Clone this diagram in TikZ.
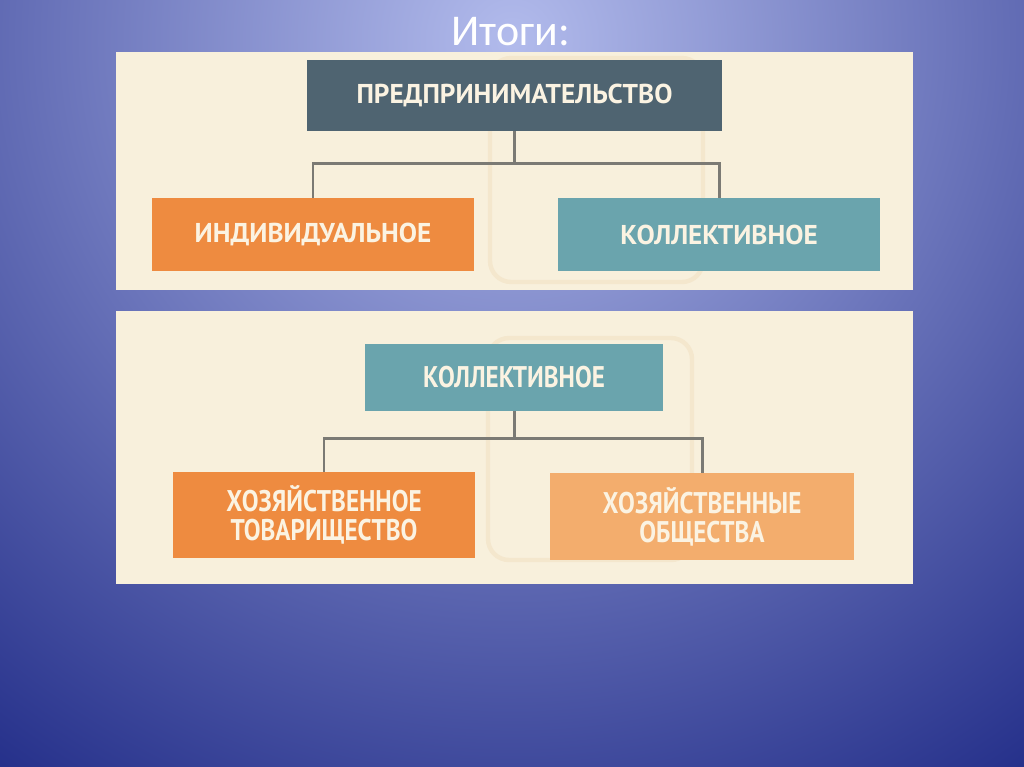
\documentclass[tikz,border=0pt]{standalone}
\usepackage{fontspec}
\setmainfont{PT Sans}
\newfontfamily\titlefont{Carlito}
\newfontfamily\narrowfont[FakeStretch=0.84]{PT Sans}
\usetikzlibrary{positioning, calc}

\definecolor{bgdark}{HTML}{1C2784}
\definecolor{bglight}{HTML}{B2BBEC}
\definecolor{panel}{HTML}{F8F0DC}
\definecolor{watermark}{HTML}{F4E7CD}
\definecolor{slate}{HTML}{4F6471}
\definecolor{teal}{HTML}{6AA4AD}
\definecolor{orange}{HTML}{EE8B40}
\definecolor{peach}{HTML}{F3AD6D}
\definecolor{linegray}{HTML}{7B7A74}
\definecolor{creamtext}{HTML}{FBF3E2}

\begin{document}
\begin{tikzpicture}[
    x=0.02cm, y=-0.02cm,    % 1単位 = 1px（下向きが正）
    box/.style={inner sep=0pt, align=center, text=creamtext, font=\bfseries\fontsize{15.5}{17}\selectfont},
    nbox/.style={box, font=\narrowfont\bfseries\fontsize{17}{16.5}\selectfont},
    link/.style={draw=linegray, line width=1.7pt}
]

    % --- 1. 背景 ---
    \useasboundingbox (0,0) rectangle (1024,767);
    \fill [bgdark] (0,0) rectangle (1024,767);
    \begin{scope}
        \clip (0,0) rectangle (1024,767);
        \shade [inner color=bglight, outer color=bgdark] (512,40) circle [radius=950];
    \end{scope}

    % タイトル
    \node [text=white, font=\titlefont\fontsize{25}{30}\selectfont] (title) at (511,32) {Итоги:};

    % --- 2. 上のパネル ---
    \fill [panel] (116,52) rectangle (913,290);
    \draw [watermark, line width=2.5pt, rounded corners=12pt] (490,58) rectangle (703,282);

    \node [box, fill=slate, minimum width=8.3cm, minimum height=1.42cm] (ent) at (514.5,95.5) {ПРЕДПРИНИМАТЕЛЬСТВО};
    \node [box, fill=orange, minimum width=6.44cm, minimum height=1.46cm] (indiv) at (313,234.5) {ИНДИВИДУАЛЬНОЕ};
    \node [box, fill=teal, minimum width=6.44cm, minimum height=1.46cm] (coll) at (719,234.5) {КОЛЛЕКТИВНОЕ};

    \path (ent.south) ++(0,32) coordinate (fork1);
    \draw [link] (ent.south) -- (fork1) -| (indiv.north);
    \draw [link] (fork1) -| (coll.north);

    % --- 3. 下のパネル ---
    \fill [panel] (116,311) rectangle (913,584);
    \draw [watermark, line width=2.5pt, rounded corners=12pt] (488,338) rectangle (692,560);

    \node [nbox, fill=teal, minimum width=5.98cm, minimum height=1.34cm] (coll2) at (514,377.5) {КОЛЛЕКТИВНОЕ};
    \node [nbox, fill=orange, minimum width=6.06cm, minimum height=1.72cm] (part) at (324,515) {ХОЗЯЙСТВЕННОЕ\\ТОВАРИЩЕСТВО};
    \node [nbox, fill=peach, minimum width=6.08cm, minimum height=1.74cm] (soc) at (702,516.5) {ХОЗЯЙСТВЕННЫЕ\\ОБЩЕСТВА};

    \path (coll2.south) ++(0,27) coordinate (fork2);
    \draw [link] (coll2.south) -- (fork2) -| (part.north);
    \draw [link] (fork2) -| (soc.north);

\end{tikzpicture}
\end{document}
